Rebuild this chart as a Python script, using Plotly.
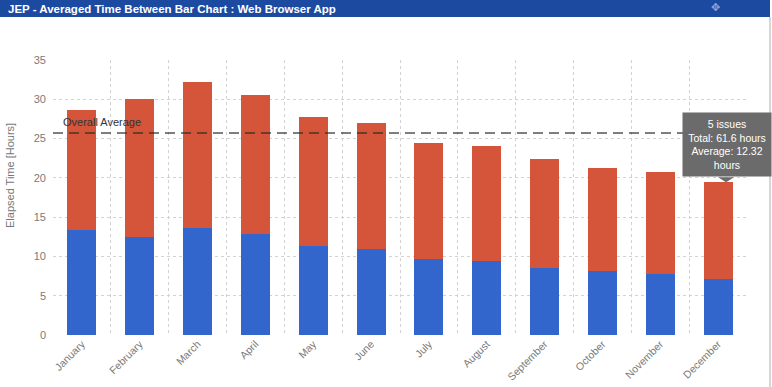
import plotly.graph_objects as go

months = ["January", "February", "March", "April", "May", "June", "July",
          "August", "September", "October", "November", "December"]
first_segment = [13.36, 12.5, 13.57, 12.8, 11.36, 11.0, 9.67, 9.46, 8.57, 8.14, 7.8, 7.12]
second_segment = [15.34, 17.5, 18.58, 17.7, 16.34, 16.0, 14.73, 14.59, 13.78, 13.16, 13.0, 12.32]
overall_average = 25.7
y_ticks = [0, 5, 10, 15, 20, 25, 30, 35]
tooltip_lines = ["5 issues", "Total: 61.6 hours", "Average: 12.32", "hours"]

W, H = 772, 387
ML, MR, MT, MB = 53, 25, 60, 52
PW, PH = W - ML - MR, H - MT - MB

def px(x):
    return (x - ML) / PW

def py(y):
    return (H - MB - y) / PH

FONT = "Liberation Sans, Arial, sans-serif"

fig = go.Figure()
fig.add_bar(x=months, y=first_segment, marker=dict(color="#3366cc", line=dict(width=0)),
            hoverinfo="skip")
fig.add_bar(x=months, y=second_segment, marker=dict(color="#d5553a", line=dict(width=0)),
            hoverinfo="skip")

shapes = []
annotations = []

# overall average dashed line
shapes.append(dict(type="line", xref="paper", yref="y", x0=0, x1=1,
                   y0=overall_average, y1=overall_average,
                   line=dict(color="rgba(40,40,40,0.6)", width=2, dash="10px,6px"),
                   layer="above"))
annotations.append(dict(xref="paper", yref="y", x=px(61), y=overall_average,
                        yshift=11, xanchor="left", yanchor="middle", showarrow=False,
                        text="Overall Average", font=dict(family=FONT, size=11, color="#333")))

# header bar
shapes.append(dict(type="rect", xref="paper", yref="paper", x0=px(0), x1=px(770),
                   y0=py(17), y1=py(0), fillcolor="#1d4aa1", line=dict(width=0), layer="above"))
shapes.append(dict(type="line", xref="paper", yref="paper", x0=px(770), x1=px(770),
                   y0=py(17), y1=py(387), line=dict(color="#c8c8c8", width=1.5)))
annotations.append(dict(xref="paper", yref="paper", x=px(6), y=py(8.5), xanchor="left",
                        yanchor="middle", showarrow=False,
                        text="<b>JEP - Averaged Time Between Bar Chart : Web Browser App</b>",
                        font=dict(family=FONT, size=11.5, color="white")))
annotations.append(dict(xref="paper", yref="paper", x=px(715), y=py(7), xanchor="center",
                        yanchor="middle", showarrow=False, text="✥",
                        font=dict(family="DejaVu Sans", size=11, color="#8fa9dc")))

# y axis title
annotations.append(dict(xref="paper", yref="paper", x=px(10), y=py(176), xanchor="center",
                        yanchor="middle", showarrow=False, textangle=-90,
                        text="Elapsed Time [Hours]",
                        font=dict(family=FONT, size=11, color="#777")))

# tooltip
dec_total = first_segment[-1] + second_segment[-1]
annotations.append(dict(xref="x", yref="y", x=len(months) - 1, y=dec_total,
                        xshift=9, yshift=5, xanchor="center", yanchor="bottom",
                        showarrow=False, text="<br>".join(tooltip_lines), align="center",
                        bgcolor="#6b6b6b", borderpad=5, width=78,
                        font=dict(family=FONT, size=10.5, color="white")))
shapes.append(dict(type="path", xref="x", yref="y", xsizemode="pixel", ysizemode="pixel",
                   xanchor=len(months) - 1, yanchor=dec_total,
                   path="M 0,5 L 16,5 L 8,0 Z", fillcolor="#6b6b6b",
                   line=dict(width=0), layer="above"))

fig.update_layout(
    barmode="stack", bargap=0.5, showlegend=False,
    width=W, height=H, margin=dict(l=ML, r=MR, t=MT, b=MB, autoexpand=False),
    paper_bgcolor="white", plot_bgcolor="white",
    font=dict(family=FONT, color="#666"),
    shapes=shapes, annotations=annotations,
    xaxis=dict(tickangle=-45, tickson="boundaries", showgrid=True, gridcolor="#d2d2d2",
               griddash="dot", gridwidth=1, ticks="", showline=False, zeroline=False,
               automargin=False, range=[-0.5, len(months) - 0.5],
               tickfont=dict(family=FONT, size=10.5, color="#7a7a7a")),
    yaxis=dict(range=[0, 35], tickvals=y_ticks, showgrid=True, gridcolor="#d2d2d2",
               griddash="dot", gridwidth=1, zeroline=False, showline=False, ticks="",
               ticklabelstandoff=6, automargin=False,
               tickfont=dict(family=FONT, size=11, color="#7a7a7a")),
)

fig.write_html("out.html", config={"displayModeBar": False},
               post_script="document.body.style.margin='0';document.body.style.overflow='hidden';")
